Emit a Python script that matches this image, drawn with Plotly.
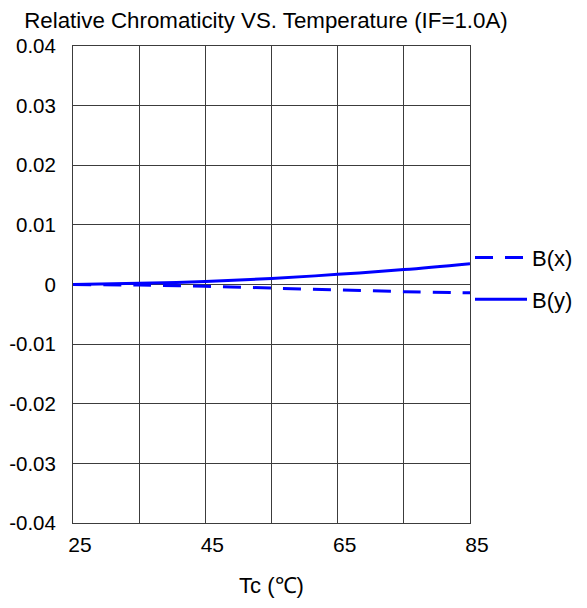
import plotly.graph_objects as go

# Data
temps = [25, 35, 45, 55, 65, 75, 85]
bx = [0.0, -0.0001, -0.0003, -0.0006, -0.0009, -0.0012, -0.0014]
by = [0.0, 0.0002, 0.0005, 0.0010, 0.0017, 0.0025, 0.0035]

x_tickvals = [25, 35, 45, 55, 65, 75, 85]
x_ticktext = ["25", "", "45", "", "65", "", "85"]
y_tickvals = [0.04, 0.03, 0.02, 0.01, 0.0, -0.01, -0.02, -0.03, -0.04]
y_ticktext = ["0.04", "0.03", "0.02", "0.01", "0", "-0.01", "-0.02", "-0.03", "-0.04"]

FONT = "Liberation Sans, Arial, sans-serif"
GRID = "#3c3c3c"
BLUE = "#0000ff"
FS = 22

fig = go.Figure()
fig.add_trace(go.Scatter(x=temps, y=bx, mode="lines", name="B(x)", legendgroup="a",
                         line=dict(color=BLUE, width=3, dash="18px,12px"), line_shape="spline"))
fig.add_trace(go.Scatter(x=temps, y=by, mode="lines", name="B(y)", legendgroup="b",
                         line=dict(color=BLUE, width=3), line_shape="spline"))

fig.update_layout(
    width=587, height=608,
    margin=dict(l=65, r=125, t=38, b=93, pad=0, autoexpand=False),
    paper_bgcolor="white", plot_bgcolor="white",
    font=dict(family=FONT, size=FS, color="black"),
    title=dict(text="Relative Chromaticity VS. Temperature (IF=1.0A)",
               xref="container", x=0.4395, xanchor="center",
               yref="container", y=0.98, yanchor="middle",
               font=dict(family=FONT, size=22.3, color="black")),
    showlegend=True,
    legend=dict(x=1.0, xanchor="left", y=0.60, yanchor="top",
                bgcolor="rgba(0,0,0,0)", itemwidth=52, tracegroupgap=10,
                font=dict(family=FONT, size=FS, color="black")),
    xaxis=dict(range=[25, 85], tickvals=x_tickvals, ticktext=x_ticktext,
               showgrid=True, gridcolor=GRID, gridwidth=1,
               showline=True, linecolor=GRID, linewidth=1, mirror=True,
               zeroline=False, ticks="", ticklabelshift=7, ticklabelstandoff=3,
               automargin=False, tickfont=dict(size=21),
               title=dict(text="Tc (℃)", standoff=22, font=dict(size=FS))),
    yaxis=dict(range=[-0.04, 0.04], tickvals=y_tickvals, ticktext=y_ticktext,
               showgrid=True, gridcolor=GRID, gridwidth=1,
               showline=True, linecolor=GRID, linewidth=1, mirror=True,
               zeroline=False, ticks="", ticklabelstandoff=12, automargin=False,
               tickfont=dict(size=20.5)),
)

fig.write_html("out.html")
